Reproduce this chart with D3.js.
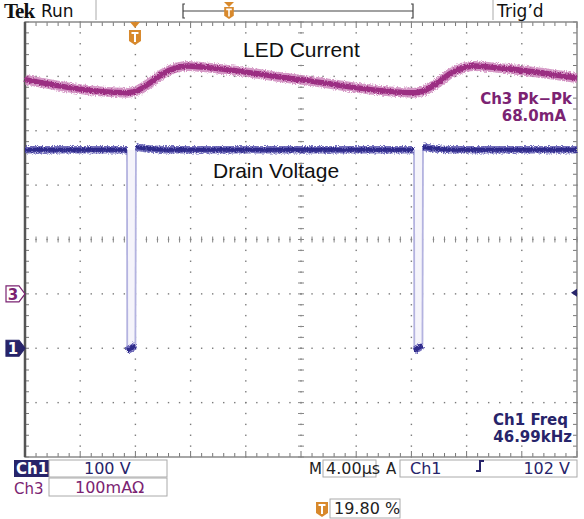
<!DOCTYPE html>
<html>
<head>
<meta charset="utf-8">
<script src="https://cdn.jsdelivr.net/npm/d3@7"></script>
<style>
  body { margin: 0; background: #fff; }
  svg { display: block; }
  text { font-family: "DejaVu Sans", sans-serif; }
</style>
</head>
<body>
<div id="container"></div>
<script>
// time axis in microseconds from left edge of screen (10 div x 4 us)
var ch1Time  = [0, 7.39, 7.41, 8.0, 8.04, 8.8, 10, 28.19, 28.21, 28.8, 28.84, 29.6, 30.8, 40];
var ch1Volts = [365, 365, -4, 5, 370, 367, 365, 365, -4, 5, 370, 367, 365, 365];

var ch3Time = [0, 7.39, 8.04, 9.06, 10.0, 11.0, 11.8, 12.9, 19.9, 28.19, 28.84, 29.9, 30.8, 31.8, 32.6, 33.7, 40];
var ch3mA   = [394, 370, 373, 388, 405, 416, 419, 417, 394, 370, 373, 388, 405, 416, 419, 417, 397];

var trigTime = 7.97;
var trigLevel = 102;

var W = 584, H = 519;
var gx0 = 25, gx1 = 577, gy0 = 22, gy1 = 457;

var svg = d3.select("#container").append("svg").attr("width", W).attr("height", H);

var x = d3.scaleLinear().domain([0, 40]).range([gx0, gx1]);
var divX = d3.scaleLinear().domain([0, 10]).range([gx0, gx1]);
var divY = d3.scaleLinear().domain([0, 8]).range([gy0, gy1]);
// ch1 ground 6 div down, 100V/div ; ch3 ground 5 div down, 100mA/div
var y1 = d3.scaleLinear().domain([-200, 600]).range([gy1, gy0]);
var y3 = d3.scaleLinear().domain([-300, 500]).range([gy1, gy0]);

var defs = svg.append("defs");
var f = defs.append("filter").attr("id", "fuzz").attr("filterUnits", "userSpaceOnUse")
  .attr("x", 0).attr("y", 0).attr("width", W).attr("height", H);
f.append("feTurbulence").attr("type", "fractalNoise").attr("baseFrequency", "0.9").attr("numOctaves", 2).attr("seed", 3).attr("result", "n");
f.append("feDisplacementMap").attr("in", "SourceGraphic").attr("in2", "n").attr("scale", 4).attr("xChannelSelector", "R").attr("yChannelSelector", "G");

// ---------- graticule ----------
var grid = svg.append("g");
var minor = d3.range(0, 8.001, 0.2);
var minorX = d3.range(0, 10.001, 0.2);

d3.range(1, 10).forEach(function(i) {
  grid.selectAll(null).data(minor).enter().append("rect")
    .attr("x", divX(i) - 0.7).attr("y", function(d) { return divY(d) - 0.7; })
    .attr("width", 1.4).attr("height", 1.4).attr("fill", "#7a7a7a");
});
d3.range(1, 8).forEach(function(k) {
  grid.selectAll(null).data(minorX).enter().append("rect")
    .attr("x", function(d) { return divX(d) - 0.7; }).attr("y", divY(k) - 0.7)
    .attr("width", 1.4).attr("height", 1.4).attr("fill", "#7a7a7a");
});
// centre cross ticks
grid.selectAll(null).data(minor).enter().append("line")
  .attr("x1", divX(5) - 3).attr("x2", divX(5) + 3)
  .attr("y1", function(d) { return divY(d); }).attr("y2", function(d) { return divY(d); })
  .attr("stroke", "#888").attr("stroke-width", 1);
grid.selectAll(null).data(minorX).enter().append("line")
  .attr("y1", divY(4) - 3).attr("y2", divY(4) + 3)
  .attr("x1", function(d) { return divX(d); }).attr("x2", function(d) { return divX(d); })
  .attr("stroke", "#888").attr("stroke-width", 1);
// border ticks
grid.selectAll(null).data(minorX).enter().append("line")
  .attr("x1", function(d) { return divX(d); }).attr("x2", function(d) { return divX(d); })
  .attr("y1", gy0).attr("y2", function(d) { return gy0 + (Math.abs(d - Math.round(d)) < 0.01 ? 6 : 4); })
  .attr("stroke", "#777");
grid.selectAll(null).data(minorX).enter().append("line")
  .attr("x1", function(d) { return divX(d); }).attr("x2", function(d) { return divX(d); })
  .attr("y1", gy1).attr("y2", function(d) { return gy1 - (Math.abs(d - Math.round(d)) < 0.01 ? 6 : 4); })
  .attr("stroke", "#777");
grid.selectAll(null).data(minor).enter().append("line")
  .attr("y1", function(d) { return divY(d); }).attr("y2", function(d) { return divY(d); })
  .attr("x1", gx0).attr("x2", gx0 + 4).attr("stroke", "#777");
grid.selectAll(null).data(minor).enter().append("line")
  .attr("y1", function(d) { return divY(d); }).attr("y2", function(d) { return divY(d); })
  .attr("x1", gx1).attr("x2", gx1 - 4).attr("stroke", "#777");
grid.append("rect").attr("x", gx0).attr("y", gy0).attr("width", gx1 - gx0).attr("height", gy1 - gy0)
  .attr("fill", "none").attr("stroke", "#8a8a8a").attr("stroke-width", 1.5);
grid.append("line").attr("x1", gx0).attr("x2", gx0).attr("y1", gy0).attr("y2", gy1)
  .attr("stroke", "#555").attr("stroke-width", 2.5);

// ---------- traces ----------
var ch3 = ch3Time.map(function(t, i) { return [t, ch3mA[i]]; });
var line3 = d3.line().x(function(d) { return x(d[0]); }).y(function(d) { return y3(d[1]); }).curve(d3.curveMonotoneX);
svg.append("path").attr("d", line3(ch3)).attr("fill", "none")
  .attr("stroke", "#c778b3").attr("stroke-width", 10).attr("opacity", 0.75).attr("filter", "url(#fuzz)");
svg.append("path").attr("d", line3(ch3)).attr("fill", "none")
  .attr("stroke", "#9b2d82").attr("stroke-width", 5.5).attr("filter", "url(#fuzz)");

var ch1 = ch1Time.map(function(t, i) { return [t, ch1Volts[i]]; });
var segs = d3.pairs(ch1);
var isEdge = function(s) { return (s[0][1] > 100) != (s[1][1] > 100); };
// faint fill inside the switching pulses
svg.selectAll(null).data(segs.filter(function(s) { return s[0][1] > 100 && s[1][1] < 100; })).enter()
  .append("rect")
  .attr("x", function(s) { return x(s[0][0]); })
  .attr("width", function(s) { return x(s[0][0] + 0.63) - x(s[0][0]); })
  .attr("y", y1(365)).attr("height", y1(0) - y1(365))
  .attr("fill", "#f5f4fb");
var line1 = d3.line().x(function(d) { return x(d[0]); }).y(function(d) { return y1(d[1]); });
svg.selectAll(null).data(segs.filter(isEdge)).enter()
  .append("path").attr("d", line1).attr("fill", "none")
  .attr("stroke", "#b4b3e0").attr("stroke-width", 1.8);
svg.selectAll(null).data(segs.filter(function(s) { return !isEdge(s); })).enter()
  .append("path").attr("d", line1).attr("fill", "none")
  .attr("stroke", "#5450ad").attr("stroke-width", 7.5).attr("opacity", 0.8).attr("filter", "url(#fuzz)");
svg.selectAll(null).data(segs.filter(function(s) { return !isEdge(s); })).enter()
  .append("path").attr("d", line1).attr("fill", "none")
  .attr("stroke", "#2e2a8a").attr("stroke-width", 4).attr("filter", "url(#fuzz)");

// ---------- labels on screen ----------
svg.append("text").attr("x", 243).attr("y", 57)
  .style("font-family", "Liberation Sans, Arial").attr("font-size", 21).attr("fill", "#111").text("LED Current");
svg.append("text").attr("x", 213).attr("y", 178)
  .style("font-family", "Liberation Sans, Arial").attr("font-size", 21).attr("fill", "#111").text("Drain Voltage");

var purple = "#7b2372", navy = "#27246a", orange = "#d8892c";
svg.append("text").attr("x", 572).attr("y", 104).attr("text-anchor", "end").attr("font-size", 15)
  .attr("font-weight", "bold").attr("fill", purple).text("Ch3 Pk\u2212Pk");
svg.append("text").attr("x", 566).attr("y", 121).attr("text-anchor", "end").attr("font-size", 15)
  .attr("font-weight", "bold").attr("fill", purple).text("68.0mA");
svg.append("text").attr("x", 568).attr("y", 425).attr("text-anchor", "end").attr("font-size", 15)
  .attr("font-weight", "bold").attr("fill", navy).text("Ch1 Freq");
svg.append("text").attr("x", 572).attr("y", 442).attr("text-anchor", "end").attr("font-size", 15)
  .attr("font-weight", "bold").attr("fill", navy).text("46.99kHz");

// channel ground markers
function marker(yy, fill, stroke, label, tcol) {
  var p = "M6," + (yy - 8) + "L19," + (yy - 8) + "L25," + yy + "L19," + (yy + 8) + "L6," + (yy + 8) + "Z";
  svg.append("path").attr("d", p).attr("fill", fill).attr("stroke", stroke).attr("stroke-width", 1.2);
  svg.append("text").attr("x", 13).attr("y", yy + 6).attr("text-anchor", "middle")
    .attr("font-size", 15).attr("font-weight", "bold").attr("fill", tcol).text(label);
}
marker(y3(0), "#fff", purple, "3", purple);
marker(y1(0), navy, navy, "1", "#fff");
// trigger level arrow on the right
svg.append("path").attr("d", "M" + (gx1 - 6) + "," + y1(trigLevel) + "l6,-4v8z").attr("fill", navy);

// trigger position marker
function tIcon(cx, top, sc) {
  var g = svg.append("g").attr("transform", "translate(" + cx + "," + top + ") scale(" + sc + ")");
  g.append("path").attr("d", "M-6,0H6V11L0,15L-6,11Z").attr("fill", orange);
  g.append("path").attr("d", "M-3.5,3H3.5M0,3V12").attr("stroke", "#fff").attr("stroke-width", 2);
}
svg.append("path").attr("d", "M" + (x(trigTime) - 5) + "," + gy0 + "h10l-5,6z").attr("fill", orange);
tIcon(x(trigTime), 30, 1);

// ---------- header ----------
svg.append("text").attr("x", 4).attr("y", 18).style("font-family", "Liberation Serif, serif")
  .attr("font-size", 21).attr("font-weight", "bold").attr("letter-spacing", -1).attr("fill", "#111").text("Tek");
svg.append("text").attr("x", 41).attr("y", 17).attr("font-size", 17).attr("fill", "#111").text("Run");
svg.append("line").attr("x1", 96).attr("x2", 96).attr("y1", 0).attr("y2", 20).attr("stroke", "#aaa");
svg.append("line").attr("x1", 493).attr("x2", 493).attr("y1", 0).attr("y2", 20).attr("stroke", "#aaa");
svg.append("text").attr("x", 497).attr("y", 17).attr("font-size", 17).attr("fill", "#111").text("Trig\u2019d");
svg.append("path").attr("d", "M185,4H183V18H185M183,11H413M411,4H413V18H411").attr("fill", "none")
  .attr("stroke", "#444").attr("stroke-width", 1.2);
svg.append("path").attr("d", "M224,2h10l-5,5z").attr("fill", orange);
tIcon(229, 7, 0.8);

// ---------- readout boxes ----------
function box(x0, y0, w, h) {
  svg.append("rect").attr("x", x0).attr("y", y0).attr("width", w).attr("height", h)
    .attr("fill", "none").attr("stroke", "#aaa").attr("stroke-width", 1);
}
svg.append("rect").attr("x", 14).attr("y", 460).attr("width", 35).attr("height", 17).attr("fill", navy);
svg.append("text").attr("x", 16).attr("y", 474).attr("font-size", 15).attr("font-weight", "bold").attr("fill", "#fff").text("Ch1");
box(49, 460, 118, 17);
svg.append("text").attr("x", 84).attr("y", 474).attr("font-size", 16).attr("fill", navy).text("100 V");
svg.append("text").attr("x", 14).attr("y", 494).attr("font-size", 15).attr("fill", purple).text("Ch3");
box(49, 478, 118, 18);
svg.append("text").attr("x", 75).attr("y", 493).attr("font-size", 16).attr("fill", purple).text("100mA\u03A9");

svg.append("text").attr("x", 309).attr("y", 474).attr("font-size", 15).attr("fill", "#222").text("M");
box(323, 460, 53, 17);
svg.append("text").attr("x", 326).attr("y", 474).attr("font-size", 16).attr("fill", "#222").text("4.00\u00B5s");
svg.append("text").attr("x", 386).attr("y", 474).attr("font-size", 15).attr("fill", "#222").text("A");
box(400, 460, 177, 17);
svg.append("text").attr("x", 410).attr("y", 474).attr("font-size", 16).attr("fill", navy).text("Ch1");
svg.append("path").attr("d", "M476,471h4v-10h4").attr("fill", "none").attr("stroke", navy).attr("stroke-width", 2);
svg.append("text").attr("x", 570).attr("y", 474).attr("text-anchor", "end").attr("font-size", 16).attr("fill", navy).text("102 V");

tIcon(322, 502, 1);
box(330, 499, 70, 19);
svg.append("text").attr("x", 334).attr("y", 514).attr("font-size", 16).attr("fill", "#222").text("19.80 %");
</script>
</body>
</html>
